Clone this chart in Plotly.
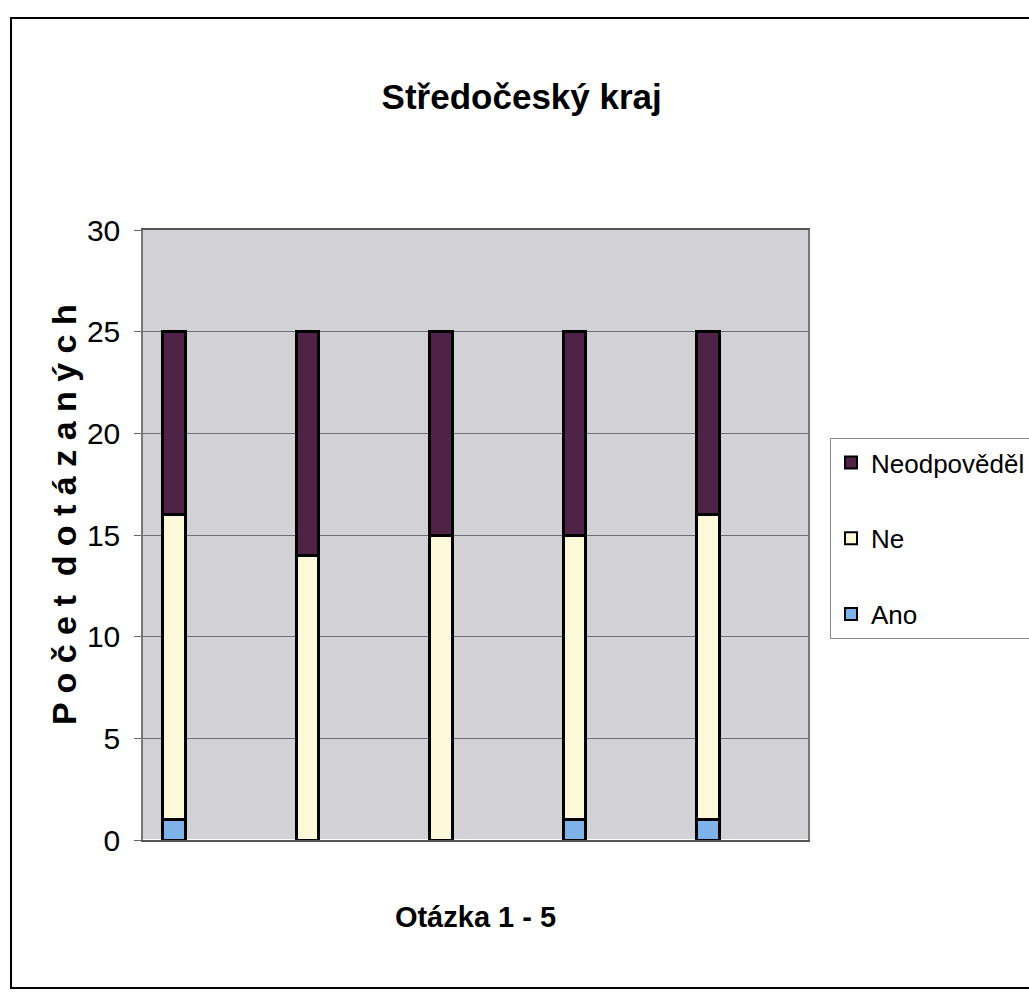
import plotly.graph_objects as go

otazky = ["1", "2", "3", "4", "5"]
ano = [1, 0, 0, 1, 1]
ne = [15, 14, 15, 14, 15]
neodpovedel = [9, 11, 10, 10, 9]

FONT = "Liberation Sans Narrow, Arial Narrow, Liberation Sans, Arial, sans-serif"

fig = go.Figure()
series = [("Ano", ano, "#80b2ea", 3), ("Ne", ne, "#fbf9da", 2), ("Neodpověděl", neodpovedel, "#4e2347", 1)]
for name, vals, col, rank in series:
    fig.add_trace(go.Bar(
        x=otazky, y=vals, name=name, legendgroup=name, legendrank=rank,
        marker=dict(color=col, line=dict(color="black", width=3)),
    ))

L, R, T, B = 143, 808, 230, 840
PW, PH = R - L, B - T

fig.update_layout(
    width=1029, height=999,
    barmode="stack", bargap=0.83,
    margin=dict(l=L, r=1029 - R, t=T, b=999 - B),
    paper_bgcolor="white", plot_bgcolor="#d2d2d6",
    font=dict(family=FONT, color="black"),
    title=dict(text="<b>Středočeský kraj</b>", x=0.507, xref="container", y=1 - 97 / 999,
               yref="container", xanchor="center", yanchor="middle",
               font=dict(size=35, family=FONT)),
    showlegend=True,
    legend=dict(x=830 / 1029, y=1 - 438 / 999, xref="container", yref="container",
                xanchor="left", yanchor="top",
                bgcolor="white", bordercolor="#8a8a8a", borderwidth=1,
                traceorder="grouped", tracegroupgap=39,
                font=dict(size=26, family=FONT), itemsizing="constant"),
    xaxis=dict(type="category", range=[-0.232, 4.749], showticklabels=False, ticks="",
               showline=True, linecolor="#555555", linewidth=2, mirror=True,
               title=dict(text="<b>Otázka 1 - 5</b>", font=dict(size=29, family=FONT), standoff=66)),
    yaxis=dict(range=[0, 30], dtick=5, showgrid=True, gridcolor="#6e6e78", gridwidth=1,
               ticks="outside", ticklen=7, tickcolor="#666666", ticklabelstandoff=8,
               showline=True, linecolor="#777777", linewidth=1.5, mirror=True,
               tickfont=dict(size=30, family=FONT)),
    annotations=[dict(text="<b>P o č e t  d o t á z a n ý c h</b>", textangle=-90,
                      xref="paper", yref="paper", x=(64 - L) / PW, y=(B - 515) / PH,
                      xanchor="center", yanchor="middle", showarrow=False,
                      font=dict(size=34, family=FONT))],
    shapes=[dict(type="rect", xref="paper", yref="paper",
                 x0=(11 - L) / PW, x1=(1040 - L) / PW,
                 y0=(B - 988) / PH, y1=(B - 18) / PH,
                 line=dict(color="black", width=2), layer="below")],
)

fig.write_html("out.html", config={"displayModeBar": False},
               post_script="document.body.style.margin='0';")
